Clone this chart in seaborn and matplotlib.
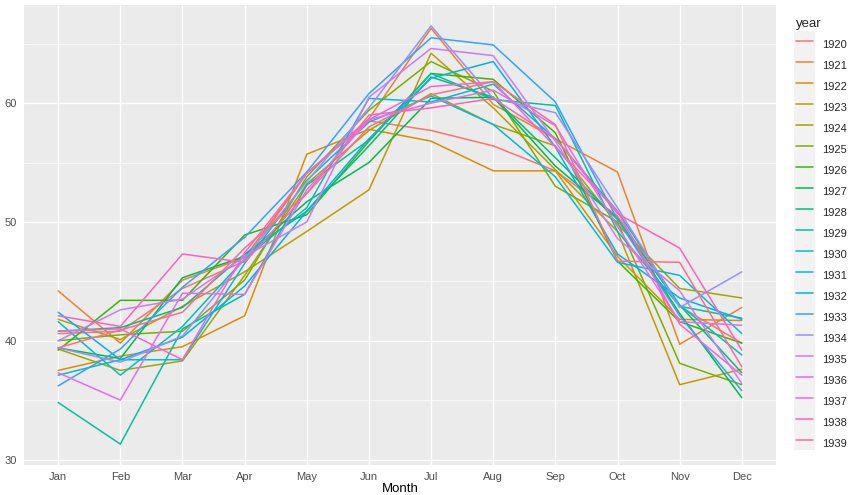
import pandas as pd
import matplotlib
matplotlib.use("Agg")
import matplotlib.pyplot as plt
import seaborn as sns
from matplotlib.lines import Line2D
from matplotlib.patches import Rectangle

months = ["Jan", "Feb", "Mar", "Apr", "May", "Jun",
          "Jul", "Aug", "Sep", "Oct", "Nov", "Dec"]
years = list(range(1920, 1940))

# monthly mean temperature per year
t1920 = [40.6, 40.8, 44.4, 46.7, 54.1, 58.5, 57.7, 56.4, 54.3, 50.5, 42.9, 39.8]
t1921 = [44.2, 39.8, 45.1, 47.0, 54.1, 58.7, 66.3, 59.9, 57.0, 54.2, 39.7, 42.8]
t1922 = [37.5, 38.7, 39.5, 42.1, 55.7, 57.8, 56.8, 54.3, 54.3, 47.1, 41.8, 41.7]
t1923 = [41.8, 40.1, 42.9, 45.8, 49.2, 52.7, 64.2, 59.6, 54.4, 49.2, 36.3, 37.6]
t1924 = [39.3, 37.5, 38.3, 45.5, 53.2, 57.7, 60.8, 58.2, 56.4, 49.8, 44.4, 43.6]
t1925 = [40.0, 40.5, 40.8, 45.1, 53.8, 59.4, 63.5, 61.0, 53.0, 50.0, 38.1, 36.3]
t1926 = [39.2, 43.4, 43.4, 48.9, 50.6, 56.8, 62.5, 62.0, 57.5, 46.7, 41.6, 39.8]
t1927 = [39.4, 38.5, 45.3, 47.1, 51.7, 55.0, 60.4, 60.5, 54.7, 50.3, 42.3, 35.2]
t1928 = [40.8, 41.1, 42.8, 47.3, 50.9, 56.4, 62.2, 60.5, 55.4, 50.2, 43.0, 37.3]
t1929 = [34.8, 31.3, 41.0, 43.9, 53.1, 56.9, 62.5, 60.3, 59.8, 49.2, 42.9, 41.9]
t1930 = [41.6, 37.1, 41.2, 46.9, 51.2, 60.4, 60.1, 61.6, 57.0, 50.9, 43.0, 38.8]
t1931 = [37.1, 38.4, 38.4, 46.5, 53.5, 58.4, 60.6, 58.2, 53.8, 46.6, 45.5, 40.6]
t1932 = [42.4, 38.4, 40.3, 44.6, 50.9, 57.0, 62.1, 63.5, 56.3, 47.3, 43.6, 41.8]
t1933 = [36.2, 39.3, 44.5, 48.7, 54.2, 60.8, 65.5, 64.9, 60.1, 50.2, 42.1, 35.8]
t1934 = [39.4, 38.2, 40.4, 46.9, 53.4, 59.6, 66.5, 60.4, 59.2, 51.2, 42.8, 45.8]
t1935 = [40.0, 42.6, 43.5, 47.1, 50.0, 60.5, 64.6, 64.0, 56.8, 48.6, 44.2, 36.4]
t1936 = [37.3, 35.0, 44.0, 43.9, 52.7, 58.6, 60.0, 61.1, 58.1, 49.6, 41.6, 41.3]
t1937 = [40.8, 41.0, 38.4, 47.4, 54.1, 58.6, 61.4, 61.8, 56.3, 50.9, 41.4, 37.1]
t1938 = [42.1, 41.2, 47.3, 46.6, 52.4, 59.0, 59.6, 60.4, 57.0, 50.7, 47.8, 39.2]
t1939 = [39.4, 40.9, 42.4, 47.8, 52.4, 58.0, 60.7, 61.8, 58.2, 46.7, 46.6, 37.8]

series = [t1920, t1921, t1922, t1923, t1924, t1925, t1926, t1927, t1928, t1929,
          t1930, t1931, t1932, t1933, t1934, t1935, t1936, t1937, t1938, t1939]

# ggplot2 default hue palette for 20 levels
palette = ["#F8766D", "#EA8331", "#D89000", "#C09B00", "#A3A500",
           "#7CAE00", "#39B600", "#00BB4E", "#00BF7D", "#00C1A3",
           "#00BFC4", "#00BAE0", "#00B0F6", "#35A2FF", "#9590FF",
           "#C77CFF", "#E76BF3", "#FA62DB", "#FF62BC", "#FF6C91"]

rows = []
for yr, vals in zip(years, series):
    for i, v in enumerate(vals):
        rows.append({"year": str(yr), "month_idx": i, "temp": v})
df = pd.DataFrame(rows)

sns.set_theme(style="darkgrid", rc={
    "axes.facecolor": "#EBEBEB",
    "grid.color": "white",
})
plt.rcParams["font.family"] = ["Liberation Sans", "DejaVu Sans"]

fig = plt.figure(figsize=(8.5, 4.95), dpi=100)
ax = fig.add_axes([24 / 850, 30 / 495, 752 / 850, 460 / 495])

sns.lineplot(data=df, x="month_idx", y="temp", hue="year",
             palette=palette, linewidth=1.1, legend=False, ax=ax,
             estimator=None, sort=False)

ax.set_xlim(-0.55, 11.55)
ax.set_ylim(29.54, 68.26)
ax.set_xticks(range(12))
ax.set_xticklabels(months)
ax.set_yticks([30, 40, 50, 60])
ax.set_yticks([35, 45, 55, 65], minor=True)
ax.grid(which="major", color="white", linewidth=1.0)
ax.grid(which="minor", axis="y", color="white", linewidth=0.5)
ax.set_axisbelow(True)
for s in ax.spines.values():
    s.set_visible(False)
ax.tick_params(axis="both", which="major", length=3, width=0.8,
               color="#333333", labelcolor="#4D4D4D", labelsize=8, pad=2)
ax.tick_params(axis="both", which="minor", length=0)
ax.set_xlabel("Month", fontsize=9.5, color="black", labelpad=1)
ax.set_ylabel("")

handles = [Line2D([], [], color=c, linewidth=1.1) for c in palette]
leg = fig.legend(handles, [str(y) for y in years], title="year",
                 loc="upper left", bbox_to_anchor=(796 / 850, 1 - 18 / 495),
                 frameon=False, fontsize=8, title_fontsize=9.5,
                 handlelength=1.55, handleheight=2.53, labelspacing=0,
                 handletextpad=0.8, borderaxespad=0, borderpad=0,
                 alignment="left")
leg._legend_box.sep = 3

# grey key background like ggplot's legend.key
fig.canvas.draw()
inv = fig.transFigure.inverted()
lines = leg.get_lines()
b0 = lines[0].get_window_extent()
b1 = lines[-1].get_window_extent()
row_h = (b0.y0 - b1.y0) / (len(lines) - 1)
x0, x1 = b0.x0 - 1.5, b0.x1 + 1.5
y0 = b1.y0 - row_h / 2
y1 = b0.y1 + row_h / 2
(fx0, fy0) = inv.transform((x0, y0))
(fx1, fy1) = inv.transform((x1, y1))
fig.patches.append(Rectangle((fx0, fy0), fx1 - fx0, fy1 - fy0,
                             transform=fig.transFigure, facecolor="#F2F2F2",
                             edgecolor="none", zorder=-1))

fig.savefig("out.png", dpi=100)
